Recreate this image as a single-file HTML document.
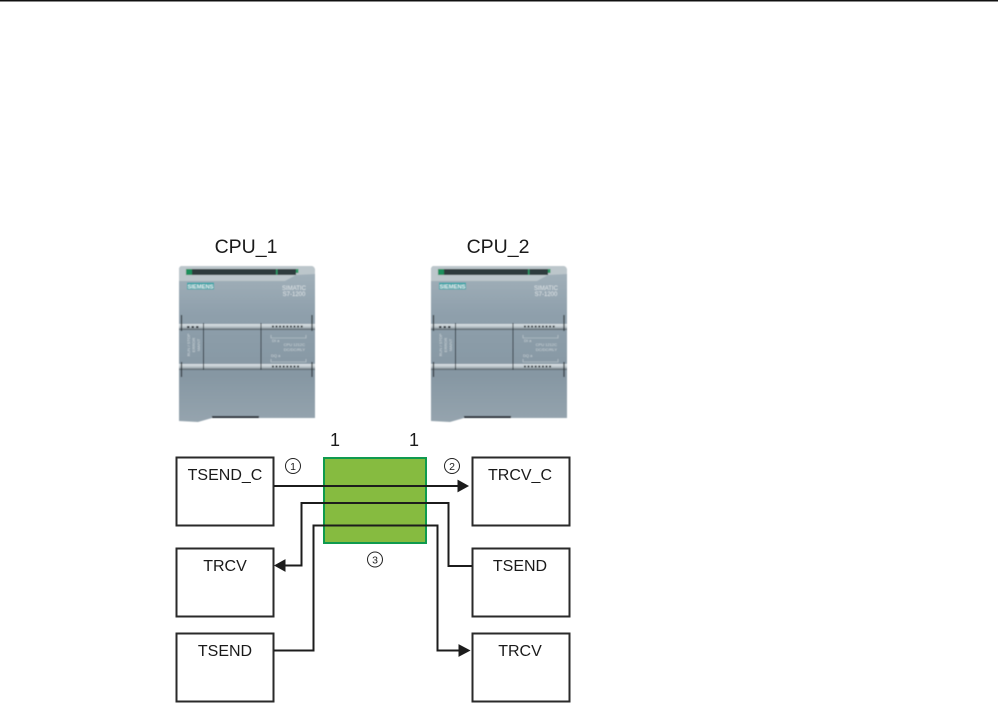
<!DOCTYPE html>
<html>
<head>
<meta charset="utf-8">
<style>
html,body{margin:0;padding:0;background:#fff;width:998px;height:705px;overflow:hidden}
svg{display:block}
text{font-family:"Liberation Sans",Arial,sans-serif;fill:#1a1a1a}
.lb{font-size:16px;text-anchor:middle}
.b{fill:#fff;stroke:#2a2a2a;stroke-width:2}
.w{fill:none;stroke:#1c1c1c;stroke-width:2}
.s{fill:#e6edef;font-size:5.800px;text-anchor:middle;font-weight:bold}
.m{fill:#dfe5e8;font-size:6px;text-anchor:middle}
.t{fill:#cdd6da;font-size:4px}
.cpu{filter:url(#soft)}
</style>
</head>
<body>
<svg width="998" height="705" viewBox="0 0 998 705" xmlns="http://www.w3.org/2000/svg">
<defs>
<filter id="soft" x="-5%" y="-5%" width="110%" height="110%"><feGaussianBlur stdDeviation="0.45"/></filter>
<linearGradient id="body" x1="0" y1="0" x2="0" y2="1">
<stop offset="0" stop-color="#a4b2bb"/>
<stop offset="0.3" stop-color="#8fa0ac"/>
<stop offset="0.7" stop-color="#8697a3"/>
<stop offset="1" stop-color="#95a4ae"/>
</linearGradient>
<linearGradient id="rail" x1="0" y1="0" x2="0" y2="1">
<stop offset="0" stop-color="#dfe5e8"/>
<stop offset="0.55" stop-color="#b3bec4"/>
<stop offset="1" stop-color="#4d5960"/>
</linearGradient>
</defs>
<rect x="0" y="0" width="998" height="1.5" fill="#111"/>

<text x="246" y="253" font-size="19.500" text-anchor="middle">CPU_1</text>
<text x="498" y="253" font-size="19.500" text-anchor="middle">CPU_2</text>

<!-- CPU 1 -->
<g class="cpu">
<path d="M182 266H311Q315 266 315 271V418H212L198 422L179 421V270Q179 266 182 266Z" fill="url(#body)"/>
<path d="M182 266H311Q315 266 315 271V274L296 275L285 281H179V270Q179 266 182 266Z" fill="#bcc6cb"/>
<rect x="186" y="269" width="110" height="6" fill="#2e3a3c"/>
<rect x="186" y="269" width="6" height="6" fill="#1f8f5c"/>
<rect x="276" y="269" width="1.500" height="6" fill="#2f9a68"/>
<rect x="296" y="269" width="2.500" height="4" fill="#2f9a68"/>
<rect x="187" y="282.500" width="27" height="7" fill="#45a5a9"/>
<text x="200.500" y="288.300" class="s">SIEMENS</text>
<text x="294" y="290" class="m">SIMATIC</text>
<text x="294" y="296" class="m">S7-1200</text>
<rect x="179" y="324" width="136" height="6" fill="url(#rail)"/>
<rect x="179" y="364" width="136" height="6" fill="url(#rail)"/>
<path d="M203.500 323V370M261 323V370" stroke="#2c363c" stroke-width="1" fill="none"/>
<path d="M181.500 315V331M181.500 362V377M312 315V331M312 362V377" stroke="#2a3238" stroke-width="1.200" fill="none"/>
<path d="M187 327h2.500m2 0h2.500m2 0h2.500M272 326.500h1.800m1.800 0h1.800m1.800 0h1.800m1.800 0h1.800m1.800 0h1.800m1.800 0h1.800m1.800 0h1.800m1.800 0h1.800m1.800 0h1.800M272 366.500h1.800m1.800 0h1.800m1.800 0h1.800m1.800 0h1.800m1.800 0h1.800m1.800 0h1.800m1.800 0h1.800m1.800 0h1.800" stroke="#2a3238" stroke-width="2" fill="none"/>
<path d="M271 335V338H306V335M271 359V362H306V359" stroke="#c4ced2" stroke-width=".6" fill="none"/>
<text x="272" y="342" class="t">DI a</text>
<text x="305" y="346" class="t" text-anchor="end">CPU 1212C</text>
<text x="305" y="351" class="t" text-anchor="end">DC/DC/RLY</text>
<text x="271" y="357" class="t">DQ a</text>
<g transform="translate(190,345) rotate(-90)"><text class="t" text-anchor="middle">RUN / STOP</text></g>
<g transform="translate(195,345) rotate(-90)"><text class="t" text-anchor="middle">ERROR</text></g>
<g transform="translate(200,345) rotate(-90)"><text class="t" text-anchor="middle">MAINT</text></g>
<rect x="212" y="416" width="47" height="2" fill="#2a3238"/>
</g>

<!-- CPU 2 -->
<g class="cpu" transform="translate(252,0)">
<path d="M182 266H311Q315 266 315 271V418H212L198 422L179 421V270Q179 266 182 266Z" fill="url(#body)"/>
<path d="M182 266H311Q315 266 315 271V274L296 275L285 281H179V270Q179 266 182 266Z" fill="#bcc6cb"/>
<rect x="186" y="269" width="110" height="6" fill="#2e3a3c"/>
<rect x="186" y="269" width="6" height="6" fill="#1f8f5c"/>
<rect x="276" y="269" width="1.500" height="6" fill="#2f9a68"/>
<rect x="296" y="269" width="2.500" height="4" fill="#2f9a68"/>
<rect x="187" y="282.500" width="27" height="7" fill="#45a5a9"/>
<text x="200.500" y="288.300" class="s">SIEMENS</text>
<text x="294" y="290" class="m">SIMATIC</text>
<text x="294" y="296" class="m">S7-1200</text>
<rect x="179" y="324" width="136" height="6" fill="url(#rail)"/>
<rect x="179" y="364" width="136" height="6" fill="url(#rail)"/>
<path d="M203.500 323V370M261 323V370" stroke="#2c363c" stroke-width="1" fill="none"/>
<path d="M181.500 315V331M181.500 362V377M312 315V331M312 362V377" stroke="#2a3238" stroke-width="1.200" fill="none"/>
<path d="M187 327h2.500m2 0h2.500m2 0h2.500M272 326.500h1.800m1.800 0h1.800m1.800 0h1.800m1.800 0h1.800m1.800 0h1.800m1.800 0h1.800m1.800 0h1.800m1.800 0h1.800m1.800 0h1.800M272 366.500h1.800m1.800 0h1.800m1.800 0h1.800m1.800 0h1.800m1.800 0h1.800m1.800 0h1.800m1.800 0h1.800m1.800 0h1.800" stroke="#2a3238" stroke-width="2" fill="none"/>
<path d="M271 335V338H306V335M271 359V362H306V359" stroke="#c4ced2" stroke-width=".6" fill="none"/>
<text x="272" y="342" class="t">DI a</text>
<text x="305" y="346" class="t" text-anchor="end">CPU 1212C</text>
<text x="305" y="351" class="t" text-anchor="end">DC/DC/RLY</text>
<text x="271" y="357" class="t">DQ a</text>
<g transform="translate(190,345) rotate(-90)"><text class="t" text-anchor="middle">RUN / STOP</text></g>
<g transform="translate(195,345) rotate(-90)"><text class="t" text-anchor="middle">ERROR</text></g>
<g transform="translate(200,345) rotate(-90)"><text class="t" text-anchor="middle">MAINT</text></g>
<rect x="212" y="416" width="47" height="2" fill="#2a3238"/>
</g>

<text x="335" y="446" font-size="18" text-anchor="middle">1</text>
<text x="414" y="446" font-size="18" text-anchor="middle">1</text>

<rect x="324" y="458" width="102" height="85" fill="#86bb40" stroke="#0f9a4e" stroke-width="2"/>

<rect class="b" x="176.500" y="457.500" width="97" height="68"/>
<rect class="b" x="176.500" y="548.500" width="97" height="68"/>
<rect class="b" x="176.500" y="633.500" width="97" height="68"/>
<rect class="b" x="472.500" y="457.500" width="97" height="68"/>
<rect class="b" x="472.500" y="548.500" width="97" height="68"/>
<rect class="b" x="472.500" y="633.500" width="97" height="68"/>

<text class="lb" x="225" y="480">TSEND_C</text>
<text class="lb" x="520" y="480">TRCV_C</text>
<text class="lb" x="225" y="571">TRCV</text>
<text class="lb" x="520" y="571">TSEND</text>
<text class="lb" x="225" y="656">TSEND</text>
<text class="lb" x="520" y="656">TRCV</text>

<path class="w" d="M274 486H460"/>
<path d="M458 480.500L468 486L458 491.500Z" fill="#1c1c1c" stroke="#1c1c1c"/>
<path class="w" d="M284 565.500H301.500V503H448.500V566H472"/>
<path d="M285 560L275 565.500L285 571Z" fill="#1c1c1c" stroke="#1c1c1c"/>
<path class="w" d="M274 650.500H313.500V525.500H437.500V650.500H461"/>
<path d="M459 645L469.500 650.500L459 656Z" fill="#1c1c1c" stroke="#1c1c1c"/>

<g fill="#fff" stroke="#222" stroke-width="1">
<circle cx="293" cy="466" r="7.500"/>
<circle cx="452" cy="466" r="7.500"/>
<circle cx="375" cy="559.500" r="7.500"/>
</g>
<g font-size="10.500" text-anchor="middle">
<text x="293" y="470">1</text>
<text x="452" y="470">2</text>
<text x="375" y="563.500">3</text>
</g>
</svg>
</body>
</html>
